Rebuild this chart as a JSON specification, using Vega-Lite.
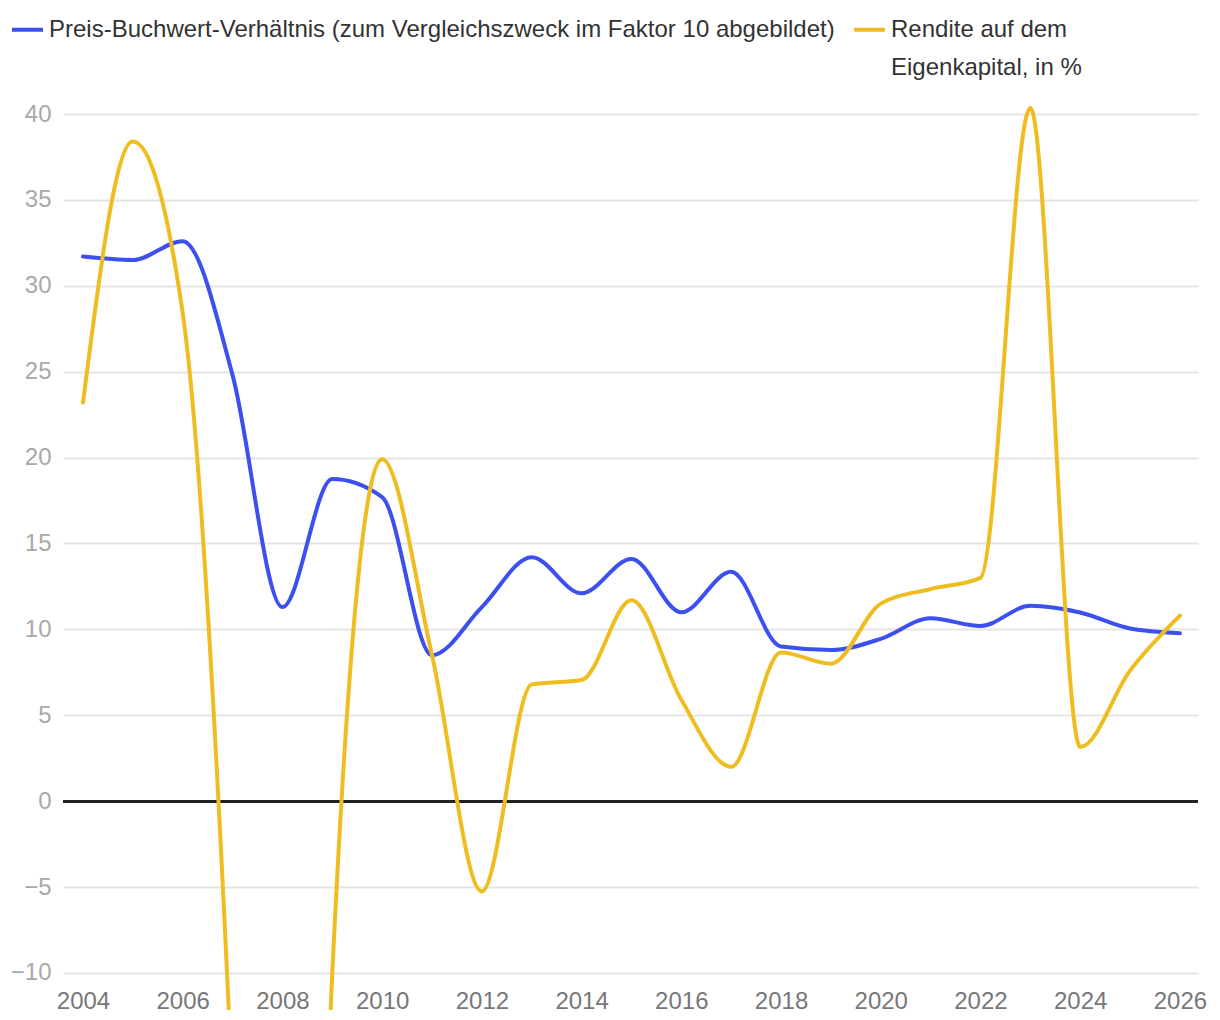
{
  "$schema": "https://vega.github.io/schema/vega-lite/v6.json",
  "width": 1135,
  "height": 910,
  "autosize": {"type": "none"},
  "padding": {"left": 63, "top": 100, "right": 22, "bottom": 10},
  "background": "white",
  "config": {
    "view": {"stroke": null},
    "font": "Liberation Sans"
  },
  "data": {
    "values": [
      {"year": 2004, "series": "Preis-Buchwert-Verhältnis (zum Vergleichszweck im Faktor 10 abgebildet)", "value": 31.7},
      {"year": 2005, "series": "Preis-Buchwert-Verhältnis (zum Vergleichszweck im Faktor 10 abgebildet)", "value": 31.5},
      {"year": 2006, "series": "Preis-Buchwert-Verhältnis (zum Vergleichszweck im Faktor 10 abgebildet)", "value": 32.6},
      {"year": 2007, "series": "Preis-Buchwert-Verhältnis (zum Vergleichszweck im Faktor 10 abgebildet)", "value": 24.8},
      {"year": 2008, "series": "Preis-Buchwert-Verhältnis (zum Vergleichszweck im Faktor 10 abgebildet)", "value": 11.3},
      {"year": 2009, "series": "Preis-Buchwert-Verhältnis (zum Vergleichszweck im Faktor 10 abgebildet)", "value": 18.75},
      {"year": 2010, "series": "Preis-Buchwert-Verhältnis (zum Vergleichszweck im Faktor 10 abgebildet)", "value": 17.7},
      {"year": 2011, "series": "Preis-Buchwert-Verhältnis (zum Vergleichszweck im Faktor 10 abgebildet)", "value": 8.5},
      {"year": 2012, "series": "Preis-Buchwert-Verhältnis (zum Vergleichszweck im Faktor 10 abgebildet)", "value": 11.3},
      {"year": 2013, "series": "Preis-Buchwert-Verhältnis (zum Vergleichszweck im Faktor 10 abgebildet)", "value": 14.2},
      {"year": 2014, "series": "Preis-Buchwert-Verhältnis (zum Vergleichszweck im Faktor 10 abgebildet)", "value": 12.1},
      {"year": 2015, "series": "Preis-Buchwert-Verhältnis (zum Vergleichszweck im Faktor 10 abgebildet)", "value": 14.1},
      {"year": 2016, "series": "Preis-Buchwert-Verhältnis (zum Vergleichszweck im Faktor 10 abgebildet)", "value": 11.0},
      {"year": 2017, "series": "Preis-Buchwert-Verhältnis (zum Vergleichszweck im Faktor 10 abgebildet)", "value": 13.35},
      {"year": 2018, "series": "Preis-Buchwert-Verhältnis (zum Vergleichszweck im Faktor 10 abgebildet)", "value": 9.0},
      {"year": 2019, "series": "Preis-Buchwert-Verhältnis (zum Vergleichszweck im Faktor 10 abgebildet)", "value": 8.8},
      {"year": 2020, "series": "Preis-Buchwert-Verhältnis (zum Vergleichszweck im Faktor 10 abgebildet)", "value": 9.45},
      {"year": 2021, "series": "Preis-Buchwert-Verhältnis (zum Vergleichszweck im Faktor 10 abgebildet)", "value": 10.65},
      {"year": 2022, "series": "Preis-Buchwert-Verhältnis (zum Vergleichszweck im Faktor 10 abgebildet)", "value": 10.2},
      {"year": 2023, "series": "Preis-Buchwert-Verhältnis (zum Vergleichszweck im Faktor 10 abgebildet)", "value": 11.37},
      {"year": 2024, "series": "Preis-Buchwert-Verhältnis (zum Vergleichszweck im Faktor 10 abgebildet)", "value": 10.98},
      {"year": 2025, "series": "Preis-Buchwert-Verhältnis (zum Vergleichszweck im Faktor 10 abgebildet)", "value": 10.05},
      {"year": 2026, "series": "Preis-Buchwert-Verhältnis (zum Vergleichszweck im Faktor 10 abgebildet)", "value": 9.78},
      {"year": 2004, "series": "Rendite auf dem Eigenkapital, in %", "value": 23.2},
      {"year": 2005, "series": "Rendite auf dem Eigenkapital, in %", "value": 38.4},
      {"year": 2006, "series": "Rendite auf dem Eigenkapital, in %", "value": 28.4},
      {"year": 2007, "series": "Rendite auf dem Eigenkapital, in %", "value": -17},
      {"year": 2008, "series": "Rendite auf dem Eigenkapital, in %", "value": -101},
      {"year": 2009, "series": "Rendite auf dem Eigenkapital, in %", "value": -10},
      {"year": 2010, "series": "Rendite auf dem Eigenkapital, in %", "value": 19.9},
      {"year": 2011, "series": "Rendite auf dem Eigenkapital, in %", "value": 8.5},
      {"year": 2012, "series": "Rendite auf dem Eigenkapital, in %", "value": -5.25},
      {"year": 2013, "series": "Rendite auf dem Eigenkapital, in %", "value": 6.8},
      {"year": 2014, "series": "Rendite auf dem Eigenkapital, in %", "value": 7.05},
      {"year": 2015, "series": "Rendite auf dem Eigenkapital, in %", "value": 11.7},
      {"year": 2016, "series": "Rendite auf dem Eigenkapital, in %", "value": 5.9},
      {"year": 2017, "series": "Rendite auf dem Eigenkapital, in %", "value": 2.0},
      {"year": 2018, "series": "Rendite auf dem Eigenkapital, in %", "value": 8.65},
      {"year": 2019, "series": "Rendite auf dem Eigenkapital, in %", "value": 8.0},
      {"year": 2020, "series": "Rendite auf dem Eigenkapital, in %", "value": 11.5},
      {"year": 2021, "series": "Rendite auf dem Eigenkapital, in %", "value": 12.35},
      {"year": 2022, "series": "Rendite auf dem Eigenkapital, in %", "value": 13.0},
      {"year": 2023, "series": "Rendite auf dem Eigenkapital, in %", "value": 40.35},
      {"year": 2024, "series": "Rendite auf dem Eigenkapital, in %", "value": 3.15},
      {"year": 2025, "series": "Rendite auf dem Eigenkapital, in %", "value": 7.6},
      {"year": 2026, "series": "Rendite auf dem Eigenkapital, in %", "value": 10.8}
    ]
  },
  "layer": [
    {
      "mark": {"type": "rule", "color": "#222222", "strokeWidth": 2},
      "encoding": {"y": {"datum": 0, "type": "quantitative"}}
    },
    {
      "mark": {"type": "line", "interpolate": "monotone", "strokeWidth": 4, "clip": true, "strokeCap": "round"},
      "encoding": {
        "x": {
          "field": "year",
          "type": "quantitative",
          "scale": {"domain": [2003.599, 2026.363], "nice": false, "zero": false},
          "axis": {
            "title": null,
            "values": [2004, 2006, 2008, 2010, 2012, 2014, 2016, 2018, 2020, 2022, 2024, 2026],
            "format": "d",
            "grid": false,
            "domain": false,
            "ticks": false,
            "labelFontSize": 24,
            "labelColor": "#777777",
            "labelPadding": 2,
            "offset": -23,
            "labelFlush": false,
            "labelOverlap": false
          }
        },
        "y": {
          "field": "value",
          "type": "quantitative",
          "scale": {"domain": [-12.154, 40.815], "nice": false, "zero": false},
          "axis": {
            "title": null,
            "values": [-10, -5, 0, 5, 10, 15, 20, 25, 30, 35, 40],
            "grid": true,
            "gridColor": "#e5e5e5",
            "gridWidth": 2,
            "domain": false,
            "ticks": false,
            "labelFontSize": 24,
            "labelColor": "#a8a8a8",
            "labelPadding": 12,
            "labelOverlap": false
          }
        },
        "color": {
          "field": "series",
          "type": "nominal",
          "scale": {
            "domain": ["Preis-Buchwert-Verhältnis (zum Vergleichszweck im Faktor 10 abgebildet)", "Rendite auf dem Eigenkapital, in %"],
            "range": ["#3c50f0", "#efbd1f"]
          },
          "legend": {
            "title": null,
            "orient": "none",
            "legendX": -53,
            "legendY": -88,
            "direction": "horizontal",
            "columns": 2,
            "symbolType": "stroke",
            "symbolSize": 961,
            "symbolStrokeWidth": 4,
            "labelFontSize": 24,
            "labelColor": "#333333",
            "labelLimit": 1200,
            "labelOffset": 4,
            "columnPadding": 11,
            "padding": 0,
            "labelExpr": "datum.label == 'Rendite auf dem Eigenkapital, in %' ? ['Rendite auf dem', 'Eigenkapital, in %'] : [datum.label, '']",
            "encoding": {"labels": {"lineHeight": {"value": 38}}}
          }
        }
      }
    }
  ]
}
